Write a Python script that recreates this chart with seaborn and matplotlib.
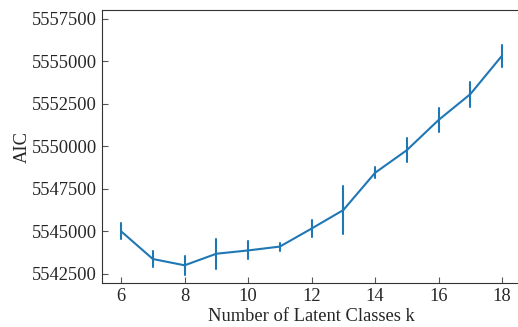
import numpy as np
import pandas as pd
import matplotlib
matplotlib.use("Agg")
import matplotlib.pyplot as plt
from matplotlib.ticker import MultipleLocator, ScalarFormatter
import seaborn as sns

# AIC per number of latent classes, with half-width of the error bars
k_values = [6, 7, 8, 9, 10, 11, 12, 13, 14, 15, 16, 17, 18]
aic_mean = [5544990, 5543360, 5542990, 5543670, 5543865, 5544090, 5545150,
            5546240, 5548430, 5549760, 5551535, 5553055, 5555320]
aic_err = [470, 490, 550, 880, 530, 230, 510, 1390, 320, 700, 710, 730, 640]

# two rows per k (low/high) so seaborn can draw the bars from min/max
rows = []
for k, m, e in zip(k_values, aic_mean, aic_err):
    rows.append({"k": k, "AIC": m - e})
    rows.append({"k": k, "AIC": m + e})
df = pd.DataFrame(rows)

sns.set_style("ticks")
plt.rcParams["font.family"] = ["Liberation Serif", "DejaVu Serif"]

fig = plt.figure(figsize=(5.18, 3.27), dpi=100)
ax = fig.add_axes([0.197, 0.1346, 0.809, 0.8346])

sns.lineplot(data=df, x="k", y="AIC", estimator="mean",
             errorbar=lambda x: (x.min(), x.max()), err_style="bars",
             color="#1f77b4", linewidth=1.5,
             err_kws={"elinewidth": 1.5, "capsize": 0}, ax=ax)

ax.set_xlim(5.4, 18.6)
ax.set_ylim(5541950, 5558000)
ax.yaxis.set_major_locator(MultipleLocator(2500))
fmt = ScalarFormatter(useOffset=False)
fmt.set_scientific(False)
ax.yaxis.set_major_formatter(fmt)
ax.xaxis.set_major_locator(MultipleLocator(2))

ax.tick_params(direction="in", labelsize=13.3, color="#555555", length=4)
ax.set_xlabel("Number of Latent Classes k", fontsize=13.3, labelpad=2)
ax.set_ylabel("AIC", fontsize=13.3, labelpad=1)
for side in ["left", "bottom", "top"]:
    ax.spines[side].set_visible(True)
    ax.spines[side].set_color("#333333")
ax.spines["right"].set_visible(False)

fig.savefig("out.png", dpi=100)
